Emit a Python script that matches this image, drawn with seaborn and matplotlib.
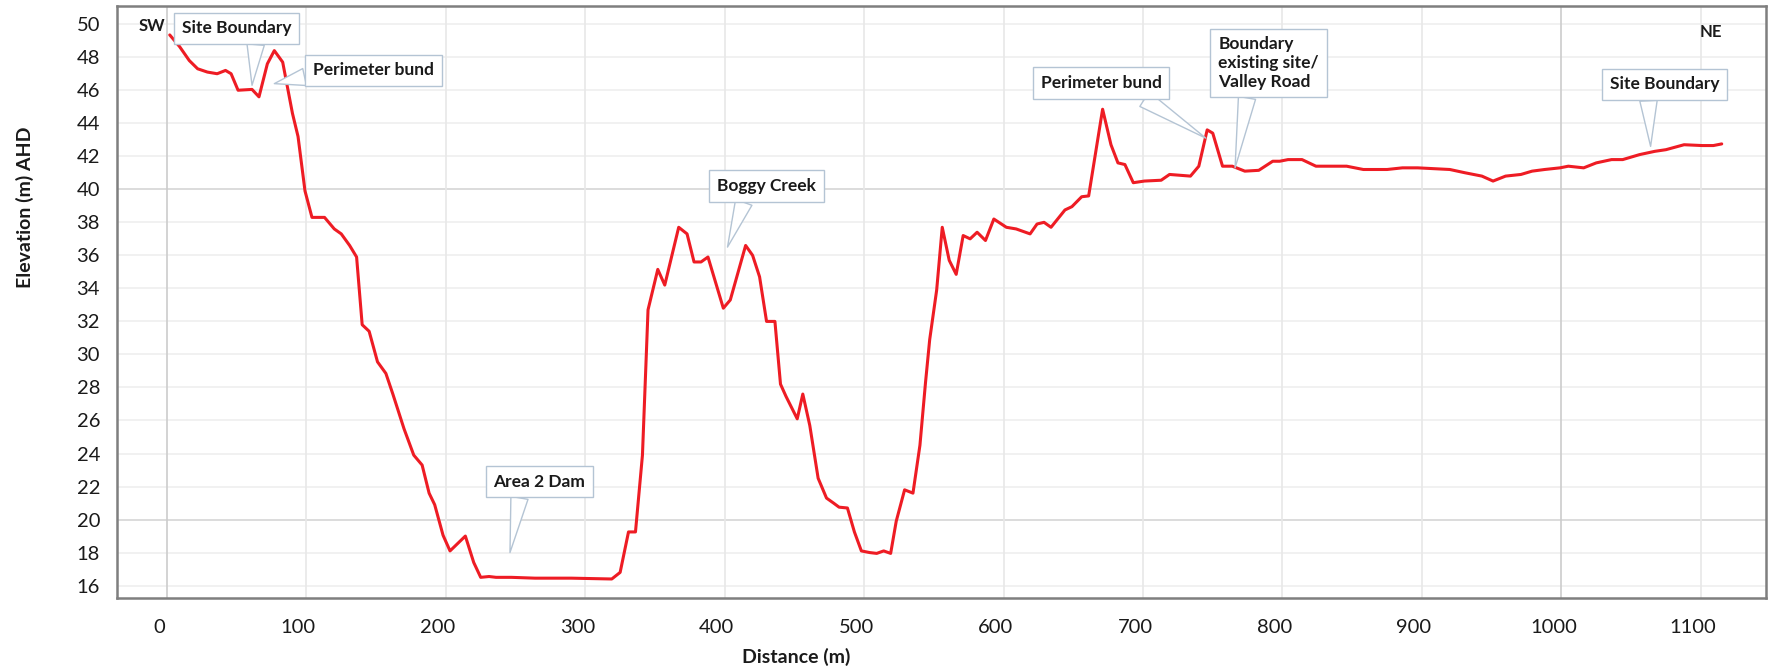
import matplotlib
matplotlib.use("Agg")
import matplotlib.pyplot as plt
import seaborn as sns
from matplotlib.transforms import ScaledTranslation

# --- data: cross section SW -> NE ---
distance = [2, 9, 16, 22, 29, 36, 42, 46, 51, 61,
            66, 72, 77, 83, 90, 94, 99, 104, 113, 120,
            125, 131, 136, 140, 145, 151, 157, 162, 170, 177,
            183, 188, 192, 198, 203, 214, 220, 225, 231, 236,
            247, 264, 290, 319, 325, 331, 336, 341, 345, 352,
            357, 367, 373, 378, 383, 388, 399, 404, 415, 420,
            425, 430, 436, 440, 444, 452, 456, 461, 467, 473,
            478, 482, 488, 493, 498, 504, 509, 514, 519, 523,
            529, 535, 540, 544, 547, 552, 556, 561, 566, 571,
            576, 581, 587, 593, 602, 609, 619, 624, 629, 634,
            644, 649, 656, 661, 671, 677, 682, 687, 693, 701,
            713, 719, 734, 740, 746, 750, 757, 764, 773, 783,
            793, 798, 804, 814, 824, 846, 858, 875, 886, 897,
            920, 931, 943, 951, 960, 971, 979, 988, 999, 1005,
            1016, 1025, 1036, 1044, 1056, 1067, 1075, 1088, 1101, 1109,
            1115]
elevation = [49.35, 48.65, 47.8, 47.3, 47.1, 47.0, 47.2, 47.0, 46.0, 46.05,
             45.6, 47.6, 48.4, 47.7, 44.6, 43.2, 39.9, 38.3, 38.3, 37.6,
             37.3, 36.6, 35.9, 31.8, 31.4, 29.55, 28.85, 27.6, 25.5, 23.9,
             23.3, 21.6, 20.9, 19.05, 18.1, 19.0, 17.4, 16.5, 16.55, 16.5,
             16.5, 16.45, 16.45, 16.4, 16.8, 19.25, 19.25, 23.9, 32.7, 35.15,
             34.2, 37.7, 37.3, 35.6, 35.6, 35.9, 32.8, 33.3, 36.6, 36.0,
             34.7, 32.0, 32.0, 28.2, 27.45, 26.1, 27.6, 25.7, 22.5, 21.3,
             21.0, 20.75, 20.7, 19.25, 18.1, 18.0, 17.95, 18.1, 17.95, 19.9,
             21.8, 21.6, 24.5, 28.3, 30.9, 33.9, 37.7, 35.7, 34.85, 37.2,
             37.0, 37.4, 36.9, 38.2, 37.7, 37.6, 37.3, 37.9, 38.0, 37.7,
             38.75, 38.95, 39.55, 39.6, 44.85, 42.7, 41.6, 41.5, 40.4, 40.5,
             40.55, 40.9, 40.8, 41.4, 43.6, 43.4, 41.4, 41.4, 41.1, 41.15,
             41.7, 41.7, 41.8, 41.8, 41.4, 41.4, 41.2, 41.2, 41.3, 41.3,
             41.2, 41.0, 40.8, 40.5, 40.8, 40.9, 41.1, 41.2, 41.3, 41.4,
             41.3, 41.6, 41.8, 41.8, 42.1, 42.3, 42.4, 42.7, 42.65, 42.65,
             42.75]

x_ticks = list(range(0, 1101, 100))
y_ticks = list(range(16, 51, 2))

# callouts: text, point on profile, box centre, where the pointer leaves the box
callout_text = ["Site Boundary", "Perimeter bund", "Area 2 Dam", "Boggy Creek",
                "Perimeter bund", "Boundary\nexisting site/\nValley Road", "Site Boundary"]
callout_xy = [(61, 46.3), (77, 46.4), (246, 18.0), (402, 36.5),
              (745, 43.1), (766, 41.3), (1064, 42.6)]
callout_box = [(50, 49.75), (148, 47.2), (267, 22.3), (430, 40.2),
               (670, 46.45), (790, 47.65), (1074, 46.35)]
callout_rel = [(0.68, 0.0), (0.0, 0.2), (0.3, 0.0), (0.3, 0.0),
               (0.75, 0.0), (0.3, 0.0), (0.35, 0.0)]

sns.set_style("white")
plt.rcParams["font.family"] = ["Lato", "DejaVu Sans"]

fig = plt.figure(figsize=(17.69, 6.70), dpi=100)
ax = fig.add_axes([0.066, 0.107, 0.9325, 0.884])

# grid
for y in y_ticks:
    ax.axhline(y, color="#d6d6d6" if y in (20, 40) else "#efefef", lw=1.2, zorder=0)
for x in x_ticks:
    ax.axvline(x, color="#cccccc" if x in (0, 1000) else "#e8e8e8", lw=1.2, zorder=0)

sns.lineplot(x=distance, y=elevation, color="#ee1c24", lw=2.2, sort=False,
             estimator=None, ax=ax, zorder=3)

ax.set_xlim(-36, 1147)
ax.set_ylim(15.23, 51.1)
ax.set_xticks(x_ticks)
ax.set_yticks(y_ticks)
ax.tick_params(length=0, labelsize=14.5, pad=12, colors="#1a1a1a")
ax.tick_params(axis="x", pad=15)
for lab in ax.get_xticklabels():
    lab.set_transform(lab.get_transform() + ScaledTranslation(-0.08, 0, fig.dpi_scale_trans))

for side in ["left", "bottom", "top", "right"]:
    ax.spines[side].set_color("#7f7f7f")
    ax.spines[side].set_linewidth(1.8)

ax.set_xlabel("Distance (m)", fontsize=14, fontweight="bold", color="#1a1a1a")
ax.xaxis.set_label_coords(0.412, -0.083)
ax.set_ylabel("Elevation (m) AHD", fontsize=14, fontweight="bold", color="#1a1a1a")
ax.yaxis.set_label_coords(-0.05, 0.66)

box_style = dict(boxstyle="square,pad=0.45", fc="white", ec="#b4c4d4", lw=1)
for txt, xy, pos, rel in zip(callout_text, callout_xy, callout_box, callout_rel):
    ax.annotate(txt, xy=xy, xytext=pos, ha="center", va="center",
                multialignment="left", fontsize=12.5, fontweight="bold", color="#1a1a1a",
                bbox=box_style, zorder=5,
                arrowprops=dict(arrowstyle="wedge,tail_width=1.0", fc="white",
                                ec="#b4c4d4", lw=1, relpos=rel, shrinkA=0, shrinkB=0))

ax.text(-11, 49.9, "SW", fontsize=12, fontweight="bold", ha="center", va="center", color="#1a1a1a")
ax.text(1107, 49.5, "NE", fontsize=12, fontweight="bold", ha="center", va="center", color="#1a1a1a")

fig.savefig("out.png", dpi=100)
